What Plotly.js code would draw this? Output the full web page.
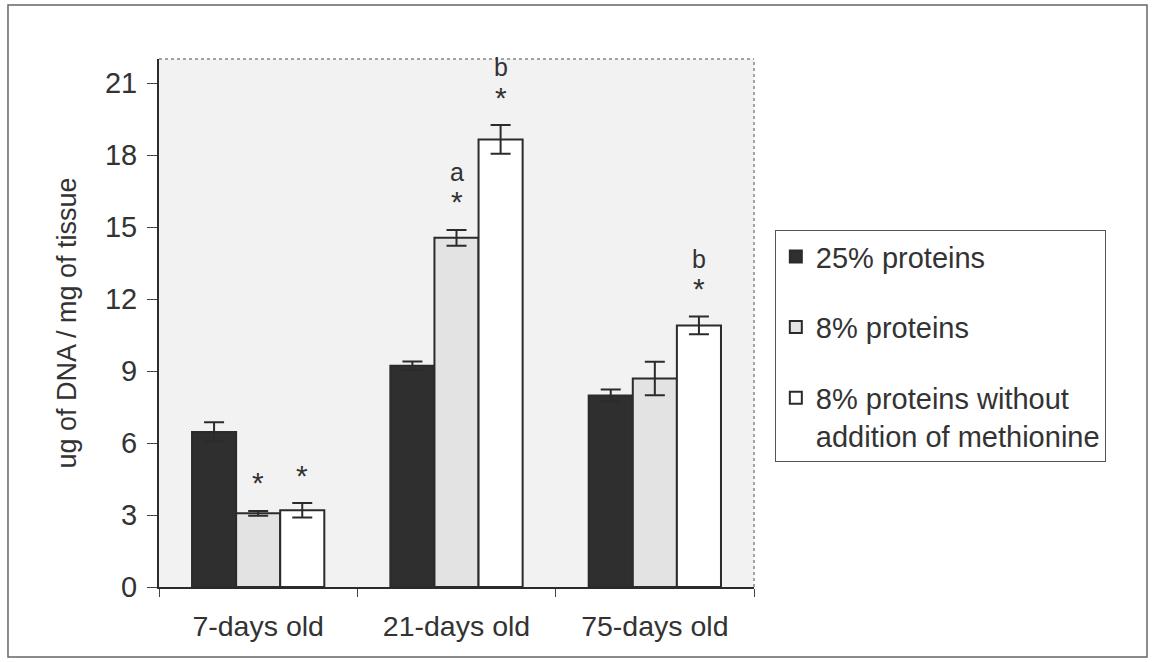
<!DOCTYPE html>
<html>
<head>
<meta charset="utf-8">
<script src="https://cdn.plot.ly/plotly-3.0.1.min.js"></script>
<style>
  html, body { margin: 0; padding: 0; background: #ffffff; }
  #chart { width: 1154px; height: 662px; }
</style>
</head>
<body>
<div id="chart"></div>
<script>
// ---- Data ----
const categories = ['7-days old', '21-days old', '75-days old'];
const seriesNames = ['25% proteins', '8% proteins', '8% proteins without<br>addition of methionine'];

const protein25 = [6.46, 9.22, 7.98];
const protein25Err = [0.4, 0.18, 0.25];

const protein8 = [3.07, 14.55, 8.69];
const protein8Err = [0.1, 0.33, 0.7];

const protein8NoMet = [3.2, 18.65, 10.9];
const protein8NoMetErr = [0.3, 0.6, 0.37];

// significance marks shown above the bars
const protein8Stars = ['*', '*', ''];
const protein8Letters = ['', 'a', ''];
const protein8NoMetStars = ['*', '*', '*'];
const protein8NoMetLetters = ['', 'b', 'b'];

const yTicks = [0, 3, 6, 9, 12, 15, 18, 21];

// ---- Styles ----
const FONT = 'Liberation Sans, Arial, sans-serif';
const INK = '#333333';
const fills = ['#2f2f2f', '#e3e3e3', '#ffffff'];
const valuesList = [protein25, protein8, protein8NoMet];
const errList = [protein25Err, protein8Err, protein8NoMetErr];

const traces = valuesList.map((vals, i) => ({
  type: 'bar',
  name: seriesNames[i],
  x: categories,
  y: vals,
  legendgroup: 'g' + i,
  marker: { color: fills[i], line: { color: '#2b2b2b', width: 2 } },
  error_y: { type: 'data', array: errList[i], visible: true, color: '#2b2b2b', thickness: 2, width: 10 }
}));

// annotations for significance marks, anchored on the top of each error bar
const BAR_PX = 44; // pixel offset between bars in a group
const annotations = [];
function addMarks(stars, letters, vals, errs, seriesIdx) {
  const shift = (seriesIdx - 1) * BAR_PX;
  categories.forEach((c, k) => {
    const top = vals[k] + errs[k];
    if (stars[k]) {
      annotations.push({ x: c, y: top, xref: 'x', yref: 'y', text: stars[k], showarrow: false,
        xshift: shift, yshift: 28, yanchor: 'middle', font: { family: FONT, size: 30, color: INK } });
    }
    if (letters[k]) {
      annotations.push({ x: c, y: top, xref: 'x', yref: 'y', text: letters[k], showarrow: false,
        xshift: shift, yshift: 58, yanchor: 'middle', font: { family: FONT, size: 25, color: INK } });
    }
  });
}
addMarks(protein8Stars, protein8Letters, protein8, protein8Err, 1);
addMarks(protein8NoMetStars, protein8NoMetLetters, protein8NoMet, protein8NoMetErr, 2);

const layout = {
  width: 1154,
  height: 662,
  margin: { l: 159, r: 400, t: 59, b: 75 },
  paper_bgcolor: '#ffffff',
  plot_bgcolor: '#f2f2f2',
  font: { family: FONT, size: 27, color: INK },
  barmode: 'group',
  bargap: 0.333,
  bargroupgap: 0,
  showlegend: true,
  legend: {
    x: 1.035, xanchor: 'left',
    y: 0.676, yanchor: 'top',
    bgcolor: '#ffffff',
    bordercolor: '#555555',
    borderwidth: 1,
    font: { family: FONT, size: 29, color: INK },
    tracegroupgap: 30,
    valign: 'top',
    itemwidth: 30
  },
  xaxis: {
    type: 'category',
    automargin: false,
    showline: true,
    linecolor: '#2b2b2b',
    linewidth: 2,
    ticks: 'outside',
    tickson: 'boundaries',
    ticklen: 8,
    tickcolor: '#444',
    tickwidth: 1,
    ticklabelstandoff: 13,
    showgrid: false,
    tickfont: { family: FONT, size: 28.5, color: INK }
  },
  yaxis: {
    automargin: false,
    range: [0, 22],
    tickvals: yTicks,
    ticktext: yTicks.map(String),
    showline: true,
    linecolor: '#2b2b2b',
    linewidth: 2,
    ticks: 'outside',
    ticklen: 10,
    tickcolor: '#444',
    tickwidth: 1,
    ticklabelstandoff: 4,
    showgrid: false,
    zeroline: false,
    tickfont: { family: FONT, size: 29, color: INK },
    title: { text: 'ug of DNA / mg of tissue', standoff: 20, font: { family: FONT, size: 27, color: INK } }
  },
  annotations: annotations,
  shapes: [
    // dotted top and right edges of the plot area
    { type: 'line', xref: 'paper', yref: 'paper', x0: 0, x1: 1, y0: 1, y1: 1, line: { color: '#888', width: 1.5, dash: 'dot' } },
    { type: 'line', xref: 'paper', yref: 'paper', x0: 1, x1: 1, y0: 0, y1: 1, line: { color: '#888', width: 1.5, dash: 'dot' } },
    // outer frame of the figure
    { type: 'rect', xref: 'paper', yref: 'paper', x0: -0.2538, x1: 1.6605, y0: -0.1326, y1: 1.1023, line: { color: '#666', width: 1.5 }, layer: 'below' }
  ]
};

Plotly.newPlot('chart', traces, layout, { displayModeBar: false, staticPlot: true });
</script>
</body>
</html>
